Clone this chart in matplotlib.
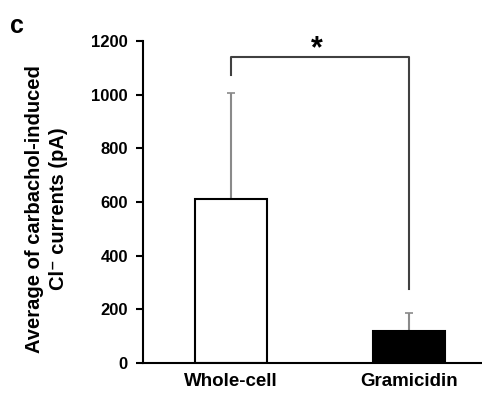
import numpy as np
import matplotlib.pyplot as plt

# data
groups = ['Whole-cell', 'Gramicidin']
means = [612, 120]
sd_upper = [393, 66]
bar_colors = ['white', 'black']
y_ticks = [0, 200, 400, 600, 800, 1000, 1200]

# significance bracket (y values in pA)
bracket_top = 1140
bracket_left_end = 1072
bracket_right_end = 275

plt.rcParams['font.family'] = ['Liberation Sans', 'DejaVu Sans']
plt.rcParams['font.weight'] = 'bold'

fig = plt.figure(figsize=(4.82, 3.94), dpi=100)
ax = fig.add_axes([0.297, 0.0787, 0.703, 0.8173])

x = np.arange(len(groups))
ax.bar(x, means, width=0.40, color=bar_colors, edgecolor='black', linewidth=1.5, zorder=2)
ax.errorbar(x, means, yerr=[np.zeros(len(means)), sd_upper], fmt='none',
            ecolor='#8a8a8a', elinewidth=1.5, capsize=3, capthick=1.2, zorder=1)

# bracket + star
ax.plot([x[0], x[0], x[1], x[1]],
        [bracket_left_end, bracket_top, bracket_top, bracket_right_end],
        color='#404040', linewidth=1.5, clip_on=False)
ax.text((x[0] + x[1]) / 2 - 0.02, bracket_top - 25, '*', ha='center', va='bottom',
        fontsize=22, fontweight='bold', color='black')

ax.set_xlim(-0.494, 1.41)
ax.set_ylim(0, 1200)
ax.set_yticks(y_ticks)
ax.set_xticks(x)
ax.set_xticklabels(groups, fontsize=13.5, fontweight='bold')
ax.tick_params(axis='x', length=0, pad=7)
ax.tick_params(axis='y', labelsize=12, direction='out', length=5, width=1.5, pad=6)
for lbl in ax.get_yticklabels():
    lbl.set_fontweight('bold')

ax.spines['top'].set_visible(False)
ax.spines['right'].set_visible(False)
ax.spines['left'].set_linewidth(1.5)
ax.spines['bottom'].set_linewidth(1.5)

ax.set_ylabel('Average of carbachol-induced\nCl\u207b currents (pA)', fontsize=14.5,
              fontweight='bold', linespacing=1.35)
ax.yaxis.set_label_coords(-0.222, 0.478)

fig.text(0.02, 0.965, 'c', fontsize=18, fontweight='bold', va='top', ha='left')

fig.savefig('out.png', dpi=100)
